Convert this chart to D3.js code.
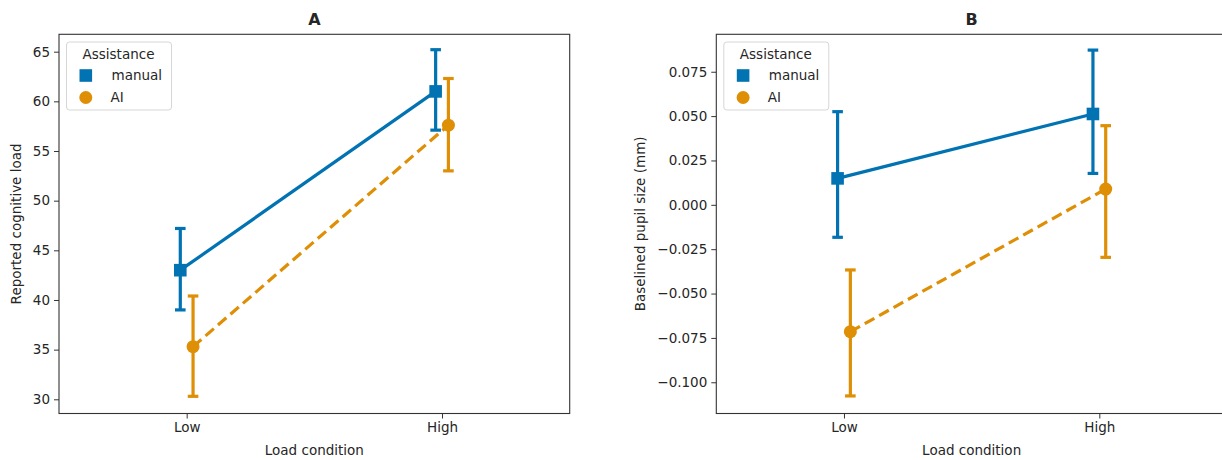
<!DOCTYPE html>
<html>
<head>
<meta charset="utf-8">
<script src="https://cdn.jsdelivr.net/npm/d3@7"></script>
<style>
  body { margin: 0; background: #fff; }
  text { font-family: "DejaVu Sans", sans-serif; fill: #262626; }
</style>
</head>
<body>
<svg id="chart" width="1222" height="460"></svg>
<script>
// categories and groups
var conditions = ["Low", "High"];
var groups = ["manual", "AI"];

// panel A: reported cognitive load (mean, ci low, ci high)
var loadManual = [43.0, 61.0];
var loadManualLo = [39.0, 57.1];
var loadManualHi = [47.2, 65.2];
var loadAI = [35.3, 57.6];
var loadAILo = [30.3, 53.0];
var loadAIHi = [40.4, 62.3];
var loadTicks = [30, 35, 40, 45, 50, 55, 60, 65];

// panel B: baselined pupil size (mm)
var pupilManual = [0.0149, 0.0512];
var pupilManualLo = [-0.0183, 0.0177];
var pupilManualHi = [0.0525, 0.0872];
var pupilAI = [-0.0715, 0.0089];
var pupilAILo = [-0.1077, -0.0296];
var pupilAIHi = [-0.0367, 0.0446];
var pupilTicks = [-0.100, -0.075, -0.050, -0.025, 0.000, 0.025, 0.050, 0.075];

var colors = {manual: "#0173b2", AI: "#de8f05"};
var svg = d3.select("#chart");

function makeSeries(means, lo, hi) {
  return conditions.map(function(c, i) { return {cond: c, mean: means[i], lo: lo[i], hi: hi[i]}; });
}

function panel(opt) {
  var left = opt.left, right = opt.right, top = 34.3, bottom = 413.5;
  var x = d3.scalePoint().domain(conditions).range([left, right]).padding(0.5);
  var y = d3.scaleLinear().domain(opt.ydomain).range([bottom, top]);
  var g = svg.append("g");
  var dodge = x.step() * 0.025;

  // axes
  var yAxis = d3.axisLeft(y).tickValues(opt.ticks).tickSize(5).tickPadding(4).tickFormat(opt.fmt);
  var ya = g.append("g").attr("transform", "translate(" + left + ",0)").call(yAxis);
  var xAxis = d3.axisBottom(x).tickSize(5).tickPadding(4);
  var xa = g.append("g").attr("transform", "translate(0," + bottom + ")").call(xAxis);
  [ya, xa].forEach(function(a) {
    a.select(".domain").remove();
    a.selectAll("line").attr("stroke", "#333").attr("stroke-width", 1);
    a.selectAll("text").attr("font-size", 13.5).attr("fill", "#262626")
      .style("font-family", "DejaVu Sans, sans-serif");
  });

  g.append("rect").attr("x", left).attr("y", top).attr("width", right - left).attr("height", bottom - top)
    .attr("fill", "none").attr("stroke", "#333").attr("stroke-width", 1.1);

  var data = [
    {name: "manual", off: -dodge, dash: null, vals: makeSeries(opt.manual[0], opt.manual[1], opt.manual[2])},
    {name: "AI", off: dodge, dash: "11,5.5", vals: makeSeries(opt.ai[0], opt.ai[1], opt.ai[2])}
  ];

  data.forEach(function(s) {
    var col = colors[s.name];
    var line = d3.line().x(function(d) { return x(d.cond) + s.off; }).y(function(d) { return y(d.mean); });
    // error bars
    s.vals.forEach(function(d) {
      var cx = x(d.cond) + s.off;
      g.append("line").attr("x1", cx).attr("x2", cx).attr("y1", y(d.lo)).attr("y2", y(d.hi))
        .attr("stroke", col).attr("stroke-width", 3.2);
      [d.lo, d.hi].forEach(function(v) {
        g.append("line").attr("x1", cx - 5.3).attr("x2", cx + 5.3).attr("y1", y(v)).attr("y2", y(v))
          .attr("stroke", col).attr("stroke-width", 3.2);
      });
    });
    g.append("path").attr("d", line(s.vals)).attr("fill", "none").attr("stroke", col)
      .attr("stroke-width", 3.2).attr("stroke-dasharray", s.dash);
    s.vals.forEach(function(d) {
      var cx = x(d.cond) + s.off, cy = y(d.mean);
      if (s.name === "manual") {
        g.append("rect").attr("x", cx - 6.3).attr("y", cy - 6.3).attr("width", 12.6).attr("height", 12.6).attr("fill", col);
      } else {
        g.append("circle").attr("cx", cx).attr("cy", cy).attr("r", 6.5).attr("fill", col);
      }
    });
  });

  // titles and labels
  var cx = (left + right) / 2;
  g.append("text").attr("x", cx).attr("y", 25).attr("text-anchor", "middle")
    .attr("font-size", 16).attr("font-weight", "bold").attr("fill", "#000").text(opt.title);
  g.append("text").attr("x", (x("Low") + x("High")) / 2).attr("y", 455).attr("text-anchor", "middle")
    .attr("font-size", 13.5).text("Load condition");
  g.append("text").attr("transform", "translate(" + opt.ylabelX + "," + ((top + bottom) / 2) + ") rotate(-90)")
    .attr("text-anchor", "middle").attr("font-size", 13.5).text(opt.ylabel);

  // legend
  var lg = g.append("g").attr("transform", "translate(" + (left + 7.5) + ",42)");
  lg.append("rect").attr("width", 105).attr("height", 68).attr("rx", 3).attr("fill", "#fff")
    .attr("fill-opacity", 0.8).attr("stroke", "#d6d6d6").attr("stroke-width", 1);
  lg.append("text").attr("x", 52).attr("y", 16.5).attr("text-anchor", "middle").attr("font-size", 13.5).text("Assistance");
  groups.forEach(function(name, i) {
    var yy = 33.5 + i * 22;
    if (name === "manual") {
      lg.append("rect").attr("x", 13).attr("y", yy - 6.3).attr("width", 12.6).attr("height", 12.6).attr("fill", colors[name]);
    } else {
      lg.append("circle").attr("cx", 19.3).attr("cy", yy).attr("r", 6.5).attr("fill", colors[name]);
    }
    lg.append("text").attr("x", name === "manual" ? 45 : 44).attr("y", yy + 4.8).attr("font-size", 13.5).text(name);
  });
}

panel({
  left: 59, right: 569.7, title: "A", ylabel: "Reported cognitive load", ylabelX: 20.5,
  ydomain: [28.57, 66.75], ticks: loadTicks, fmt: d3.format("d"),
  manual: [loadManual, loadManualLo, loadManualHi], ai: [loadAI, loadAILo, loadAIHi]
});
panel({
  left: 716.3, right: 1227, title: "B", ylabel: "Baselined pupil size (mm)", ylabelX: 644.5,
  ydomain: [-0.1176, 0.0961], ticks: pupilTicks, fmt: d3.format(".3f"),
  manual: [pupilManual, pupilManualLo, pupilManualHi], ai: [pupilAI, pupilAILo, pupilAIHi]
});
</script>
</body>
</html>
